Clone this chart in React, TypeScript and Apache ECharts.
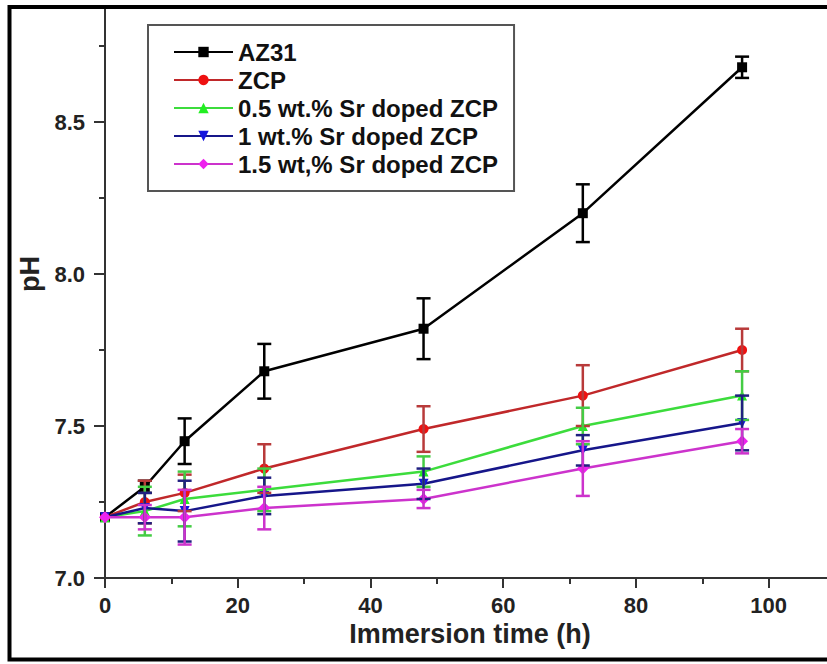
import React, { useEffect, useRef } from 'react';
import * as echarts from 'echarts';

const hours = [0, 6, 12, 24, 48, 72, 96];
const seriesNames = ['AZ31', 'ZCP', '0.5 wt.% Sr doped ZCP', '1 wt.% Sr doped ZCP', '1.5 wt,% Sr doped ZCP'];
const az31 = [7.2, 7.3, 7.45, 7.68, 7.82, 8.2, 8.68];
const az31Err = [0, 0.02, 0.075, 0.09, 0.1, 0.095, 0.035];
const zcp = [7.2, 7.25, 7.28, 7.36, 7.49, 7.6, 7.75];
const zcpErr = [0, 0.07, 0.06, 0.08, 0.075, 0.1, 0.07];
const sr05 = [7.2, 7.22, 7.26, 7.29, 7.35, 7.5, 7.6];
const sr05Err = [0, 0.08, 0.09, 0.07, 0.05, 0.06, 0.08];
const sr1 = [7.2, 7.23, 7.22, 7.27, 7.31, 7.42, 7.51];
const sr1Err = [0, 0.05, 0.1, 0.06, 0.05, 0.05, 0.09];
const sr15 = [7.2, 7.2, 7.2, 7.23, 7.26, 7.36, 7.45];
const sr15Err = [0, 0.04, 0.09, 0.07, 0.03, 0.09, 0.04];

const values = [az31, zcp, sr05, sr1, sr15];
const errors = [az31Err, zcpErr, sr05Err, sr1Err, sr15Err];
const symbols = ['rect', 'circle', 'triangle', 'triangle', 'diamond'];
const rotations = [0, 0, 0, 180, 0];
const lineColors = ['#000000', '#c0282a', '#3cdc3c', '#16168a', '#cc33cc'];
const markerColors = ['#000000', '#ee1111', '#22ee22', '#1515dd', '#ee22ee'];
const errColors = ['#000000', '#b83a3a', '#44cc44', '#202080', '#cc33cc'];

const axisFont = 'Arial, "Liberation Sans", sans-serif';

export default function App() {
  const ref = useRef<HTMLDivElement>(null);
  useEffect(() => {
    document.body.style.margin = '0';
    const chart = echarts.init(ref.current!, null, { renderer: 'svg' });
    const lineSeries = values.map((vals, i) => ({
      name: seriesNames[i],
      type: 'line',
      data: hours.map((h, j) => [h, vals[j]]),
      symbol: symbols[i],
      symbolRotate: rotations[i],
      symbolSize: i === 4 ? 12 : 10,
      lineStyle: { color: lineColors[i], width: 2.5 },
      itemStyle: { color: markerColors[i] },
      z: 3,
    }));
    const errSeries = errors.map((errs, i) => ({
      name: seriesNames[i] + ' error',
      type: 'custom',
      data: hours
        .map((h, j) => [h, values[i][j] - errs[j], values[i][j] + errs[j]])
        .filter((_, j) => errs[j] > 0),
      encode: { x: 0, y: [1, 2] },
      z: 4,
      renderItem: (params: any, api: any) => {
        const x = api.value(0);
        const top = api.coord([x, api.value(2)]);
        const bot = api.coord([x, api.value(1)]);
        const hw = 7;
        const style = { stroke: errColors[i], lineWidth: 2.5 };
        return {
          type: 'group',
          children: [
            { type: 'line', shape: { x1: top[0], y1: top[1], x2: bot[0], y2: bot[1] }, style },
            { type: 'line', shape: { x1: top[0] - hw, y1: top[1], x2: top[0] + hw, y2: top[1] }, style },
            { type: 'line', shape: { x1: bot[0] - hw, y1: bot[1], x2: bot[0] + hw, y2: bot[1] }, style },
          ],
        };
      },
    }));
    chart.setOption({
      animation: false,
      backgroundColor: '#ffffff',
      grid: { left: 105, right: -8, top: -30, bottom: 86, outerBoundsMode: 'none', containLabel: false },
      legend: {
        data: seriesNames,
        orient: 'vertical',
        left: 148,
        top: 25,
        padding: [15, 16, 15, 25],
        itemGap: 4,
        itemWidth: 59,
        itemHeight: 13,
        backgroundColor: '#ffffff',
        borderColor: '#555555',
        borderWidth: 2,
        borderRadius: 0,
        textStyle: {
          fontFamily: '"Liberation Sans", Arial, sans-serif',
          fontWeight: 'bold',
          fontSize: 24,
          lineHeight: 24,
          color: '#111111',
        },
      },
      xAxis: {
        type: 'value',
        min: 0,
        max: 110,
        interval: 20,
        name: 'Immersion time (h)',
        nameLocation: 'middle',
        nameGap: 40,
        nameTextStyle: { fontFamily: axisFont, fontWeight: 'bold', fontSize: 27, color: '#222' },
        axisLine: { lineStyle: { color: '#333', width: 2 } },
        axisTick: { inside: false, length: 10, lineStyle: { color: '#333', width: 2 } },
        minorTick: { show: true, splitNumber: 2, length: 6, lineStyle: { color: '#333', width: 2 } },
        splitLine: { show: false },
        axisLabel: {
          margin: 16,
          fontFamily: axisFont,
          fontWeight: 'bold',
          fontSize: 22,
          color: '#222',
          formatter: (v: number) => (v > 100 ? '' : String(v)),
        },
      },
      yAxis: {
        type: 'value',
        min: 7,
        max: 9,
        interval: 0.5,
        name: 'pH',
        nameLocation: 'middle',
        nameGap: 62,
        nameTextStyle: { fontFamily: axisFont, fontWeight: 'bold', fontSize: 27, color: '#222' },
        axisLine: { lineStyle: { color: '#333', width: 2 } },
        axisTick: { inside: false, length: 11, lineStyle: { color: '#333', width: 2 } },
        minorTick: { show: true, splitNumber: 2, length: 6, lineStyle: { color: '#333', width: 2 } },
        splitLine: { show: false },
        axisLabel: {
          margin: 20,
          fontFamily: axisFont,
          fontWeight: 'bold',
          fontSize: 22,
          color: '#222',
          formatter: (v: number) => (v > 8.6 ? '' : v.toFixed(1)),
        },
      },
      graphic: [
        { type: 'rect', z: 100, silent: true, shape: { x: 0, y: 0, width: 827, height: 5 }, style: { fill: '#ffffff' } },
        {
          type: 'rect',
          z: 101,
          silent: true,
          shape: { x: 9.5, y: 7, width: 900, height: 652.5 },
          style: { fill: 'none', stroke: '#000000', lineWidth: 4 },
        },
      ],
      series: [...lineSeries, ...errSeries],
    });
    return () => chart.dispose();
  }, []);
  return <div ref={ref} style={{ width: 827, height: 664 }} />;
}
